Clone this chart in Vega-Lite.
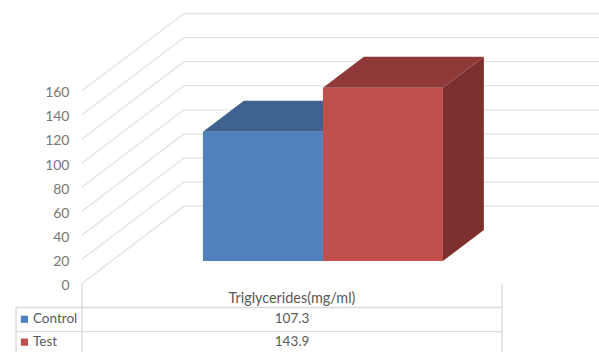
{
  "$schema": "https://vega.github.io/schema/vega-lite/v6.json",
  "autosize": {"type": "fit", "contains": "padding"},
  "width": 599,
  "height": 352,
  "padding": 0,
  "background": "white",
  "config": {"view": {"stroke": null}, "font": "Lato"},
  "datasets": {
    "bars": [
      {"series": "Control", "value": 107.3, "slot": 0},
      {"series": "Test", "value": 143.9, "slot": 1}
    ],
    "ticks": [
      {"tick": 0}, {"tick": 20}, {"tick": 40}, {"tick": 60}, {"tick": 80},
      {"tick": 100}, {"tick": 120}, {"tick": 140}, {"tick": 160}
    ],
    "rows": [{"row": -20}, {"row": -40}]
  },
  "layer": [
    {
      "description": "Oblique wall gridlines running from the front edge to the back wall",
      "data": {"name": "ticks"},
      "transform": [{"calculate": "datum.tick + 64.2", "as": "tickBack"}],
      "mark": {"type": "rule", "color": "#e2e2e2", "strokeWidth": 1.3, "clip": true},
      "encoding": {
        "x": {"datum": 0, "type": "quantitative", "scale": {"domain": [-0.1952, 1.231], "nice": false, "zero": false}, "axis": null},
        "x2": {"datum": 0.2429},
        "y": {
          "field": "tick", "type": "quantitative",
          "scale": {"domain": [-56.98, 235.4], "nice": false, "zero": false},
          "axis": {
            "title": null, "values": [0, 20, 40, 60, 80, 100, 120, 140, 160],
            "domain": false, "ticks": false, "grid": false, "offset": -73, "labelPadding": 4,
            "labelOffset": 2, "labelColor": "#767676", "labelFont": "Lato", "labelFontSize": 14
          }
        },
        "y2": {"field": "tickBack"}
      }
    },
    {
      "description": "Horizontal gridlines on the back wall",
      "data": {"name": "ticks"},
      "transform": [{"calculate": "datum.tick + 64.2", "as": "tickBack"}],
      "mark": {"type": "rule", "color": "#e2e2e2", "strokeWidth": 1.3, "clip": true},
      "encoding": {
        "x": {"datum": 0.2429, "type": "quantitative"},
        "x2": {"datum": 1.2429},
        "y": {"field": "tickBack", "type": "quantitative", "title": null}
      }
    },
    {
      "description": "Data table row separators",
      "data": {"name": "rows"},
      "mark": {"type": "rule", "color": "#d9d9d9", "strokeWidth": 1.3},
      "encoding": {
        "x": {"datum": -0.157, "type": "quantitative"},
        "x2": {"datum": 1},
        "y": {"field": "row", "type": "quantitative", "title": null}
      }
    },
    {
      "description": "Data table column lines",
      "data": {"values": [{"column": 0}, {"column": 1}]},
      "mark": {"type": "rule", "color": "#d9d9d9", "strokeWidth": 1.3, "clip": true},
      "encoding": {
        "x": {"field": "column", "type": "quantitative"},
        "y": {"datum": 0, "type": "quantitative", "title": null},
        "y2": {"datum": -60}
      }
    },
    {
      "description": "Left border of the data table legend column",
      "data": {"values": [{"column": -0.157}]},
      "mark": {"type": "rule", "color": "#d9d9d9", "strokeWidth": 1.3, "clip": true},
      "encoding": {
        "x": {"field": "column", "type": "quantitative"},
        "y": {"datum": -20, "type": "quantitative", "title": null},
        "y2": {"datum": -60}
      }
    },
    {
      "description": "Control: front face",
      "data": {"name": "bars"},
      "transform": [
        {"filter": "datum.series === 'Control'"},
        {"calculate": "0.2176 + datum.slot * 0.2857 + 0.2429 * 0.29", "as": "left"},
        {"calculate": "datum.left + 0.2857", "as": "right"},
        {"calculate": "datum.value + 64.2 * 0.29", "as": "top"},
        {"calculate": "64.2 * 0.29", "as": "base"}
      ],
      "mark": {"type": "rect", "color": "#4f81bd"},
      "encoding": {
        "x": {"field": "left", "type": "quantitative"},
        "x2": {"field": "right"},
        "y": {"field": "top", "type": "quantitative", "title": null},
        "y2": {"field": "base"}
      }
    },
    {
      "description": "Control: top face",
      "data": {"name": "bars"},
      "transform": [
        {"filter": "datum.series === 'Control'"},
        {"calculate": "[0.29, 0.691]", "as": "depth"},
        {"flatten": ["depth"]},
        {"calculate": "0.2176 + datum.slot * 0.2857 + 0.2429 * datum.depth", "as": "left"},
        {"calculate": "datum.left + 0.2857", "as": "right"},
        {"calculate": "datum.value + 64.2 * datum.depth", "as": "top"}
      ],
      "mark": {"type": "area", "color": "#3e6391", "orient": "horizontal", "opacity": 1},
      "encoding": {
        "y": {"field": "top", "type": "quantitative", "title": null},
        "x": {"field": "left", "type": "quantitative"},
        "x2": {"field": "right"}
      }
    },
    {
      "description": "Test: front face",
      "data": {"name": "bars"},
      "transform": [
        {"filter": "datum.series === 'Test'"},
        {"calculate": "0.2176 + datum.slot * 0.2857 + 0.2429 * 0.29", "as": "left"},
        {"calculate": "datum.left + 0.2857", "as": "right"},
        {"calculate": "datum.value + 64.2 * 0.29", "as": "top"},
        {"calculate": "64.2 * 0.29", "as": "base"}
      ],
      "mark": {"type": "rect", "color": "#c0504d"},
      "encoding": {
        "x": {"field": "left", "type": "quantitative"},
        "x2": {"field": "right"},
        "y": {"field": "top", "type": "quantitative", "title": null},
        "y2": {"field": "base"}
      }
    },
    {
      "description": "Test: top face",
      "data": {"name": "bars"},
      "transform": [
        {"filter": "datum.series === 'Test'"},
        {"calculate": "[0.29, 0.691]", "as": "depth"},
        {"flatten": ["depth"]},
        {"calculate": "0.2176 + datum.slot * 0.2857 + 0.2429 * datum.depth", "as": "left"},
        {"calculate": "datum.left + 0.2857", "as": "right"},
        {"calculate": "datum.value + 64.2 * datum.depth", "as": "top"}
      ],
      "mark": {"type": "area", "color": "#8f3a38", "orient": "horizontal", "opacity": 1},
      "encoding": {
        "y": {"field": "top", "type": "quantitative", "title": null},
        "x": {"field": "left", "type": "quantitative"},
        "x2": {"field": "right"}
      }
    },
    {
      "description": "Test: right side face",
      "data": {"name": "bars"},
      "transform": [
        {"filter": "datum.series === 'Test'"},
        {"calculate": "[0.29, 0.691]", "as": "depth"},
        {"flatten": ["depth"]},
        {"calculate": "0.2176 + (datum.slot + 1) * 0.2857 + 0.2429 * datum.depth", "as": "right"},
        {"calculate": "datum.value + 64.2 * datum.depth", "as": "top"},
        {"calculate": "64.2 * datum.depth", "as": "base"}
      ],
      "mark": {"type": "area", "color": "#7c2f2d", "orient": "vertical", "opacity": 1},
      "encoding": {
        "x": {"field": "right", "type": "quantitative"},
        "y": {"field": "top", "type": "quantitative", "title": null},
        "y2": {"field": "base"}
      }
    },
    {
      "description": "Category heading above the table",
      "data": {"values": [{"category": "Triglycerides(mg/ml)"}]},
      "mark": {"type": "text", "color": "#595959", "fontSize": 14.4, "font": "Lato", "align": "center", "baseline": "middle"},
      "encoding": {
        "x": {"datum": 0.5, "type": "quantitative"},
        "y": {"datum": -12.6, "type": "quantitative", "title": null},
        "text": {"field": "category"}
      }
    },
    {
      "description": "Table values",
      "data": {"name": "bars"},
      "transform": [{"calculate": "-29.8 - datum.slot * 19", "as": "rowY"}],
      "mark": {"type": "text", "color": "#595959", "fontSize": 13.5, "font": "Lato", "align": "center", "baseline": "middle"},
      "encoding": {
        "x": {"datum": 0.5, "type": "quantitative"},
        "y": {"field": "rowY", "type": "quantitative", "title": null},
        "text": {"field": "value", "type": "quantitative", "format": ".1f"}
      }
    },
    {
      "description": "Table row names",
      "data": {"name": "bars"},
      "transform": [{"calculate": "-29.8 - datum.slot * 19", "as": "rowY"}],
      "mark": {"type": "text", "color": "#595959", "fontSize": 13.5, "font": "Lato", "align": "left", "baseline": "middle"},
      "encoding": {
        "x": {"datum": -0.1167, "type": "quantitative"},
        "y": {"field": "rowY", "type": "quantitative", "title": null},
        "text": {"field": "series"}
      }
    },
    {
      "description": "Legend keys in the table",
      "data": {"name": "bars"},
      "transform": [{"calculate": "-29.8 - datum.slot * 19", "as": "rowY"}],
      "mark": {"type": "point", "shape": "square", "filled": true, "size": 52, "opacity": 1},
      "encoding": {
        "x": {"datum": -0.137, "type": "quantitative"},
        "y": {"field": "rowY", "type": "quantitative", "title": null},
        "color": {"field": "series", "type": "nominal", "scale": {"domain": ["Control", "Test"], "range": ["#4f81bd", "#c0504d"]}, "legend": null}
      }
    }
  ]
}
